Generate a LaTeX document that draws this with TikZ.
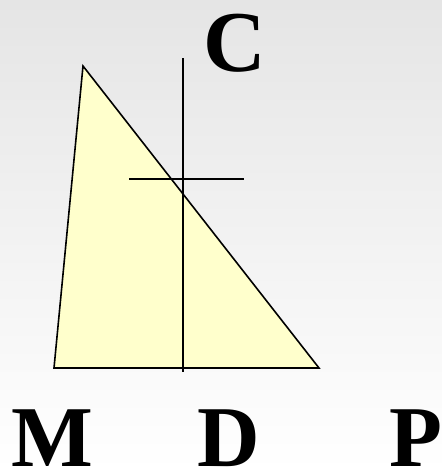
\documentclass[tikz,border=0pt]{standalone}
\usepackage{fontspec}
\setmainfont{Liberation Serif}
\definecolor{bgtop}{RGB}{229,229,229}
\definecolor{trifill}{RGB}{255,255,204}
\begin{document}
\begin{tikzpicture}[x=0.75pt,y=-0.75pt,line width=1.2pt,
  every node/.style={font=\fontsize{65}{65}\selectfont\bfseries,inner sep=0pt,anchor=base},
  guide/.style={line width=1.1pt}]
\shade[top color=bgtop,bottom color=white,draw=none] (0,0) rectangle (442,471);
\useasboundingbox (0,0) rectangle (442,471);
\coordinate (A) at (83,66);
\coordinate (B) at (54,368);
\coordinate (E) at (319,368);
\coordinate (vtop) at (183,58);
\coordinate (vbot) at (183,372);
\coordinate (hl) at (129,179);
\coordinate (hr) at (244,179);
\filldraw[fill=trifill,line join=miter] (A) -- (B) -- (E) -- cycle;
\draw[guide] (vtop) -- (vbot);
\draw[guide] (hl) -- (hr);
\node (C) at (234.5,71) {C};
\node (M) at (52.5,466) {M};
\node (D) at (228.5,466) {D};
\node (P) at (416,466) {P};
\end{tikzpicture}
\end{document}
